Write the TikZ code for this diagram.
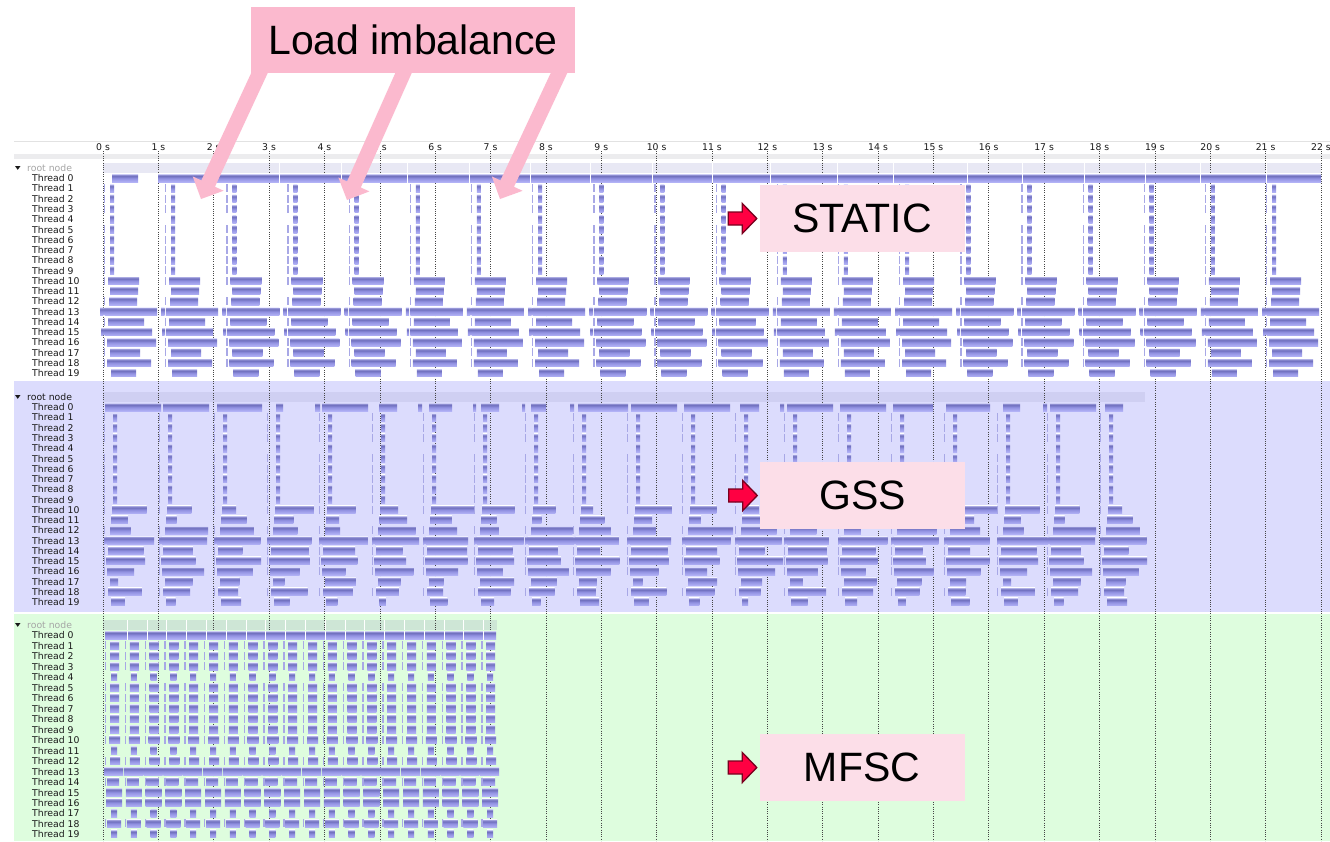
\documentclass[tikz,border=0pt]{standalone}
\usepackage{fontspec}
\setmainfont{Liberation Sans}
\newfontfamily\uifont{DejaVu Sans}
\usetikzlibrary{calc}

\definecolor{gssbg}{RGB}{220,220,253}
\definecolor{mfscbg}{RGB}{222,253,222}
\definecolor{axisline}{RGB}{226,226,226}
\definecolor{axisband}{RGB}{236,236,238}
\definecolor{rootS}{RGB}{232,232,244}
\definecolor{rootG}{RGB}{207,207,242}
\definecolor{rootM}{RGB}{206,230,214}
\definecolor{gridc}{RGB}{70,70,70}
\definecolor{lblc}{RGB}{25,25,25}
\definecolor{rootgray}{RGB}{165,165,165}
\definecolor{tickc}{RGB}{168,168,230}
\definecolor{pinkarrow}{RGB}{251,185,206}
\definecolor{labelpink}{RGB}{252,222,232}
\definecolor{redfill}{RGB}{255,0,66}
\definecolor{redline}{RGB}{120,0,30}
\definecolor{barrim}{RGB}{205,205,245}
\definecolor{barup}{RGB}{150,150,215}
\definecolor{bardk}{RGB}{112,112,190}
\definecolor{barmid}{RGB}{145,145,225}
\definecolor{barlo}{RGB}{178,178,246}

% task bar: light rim on top, dark band, lighter towards the bottom
\pgfdeclareverticalshading{barshade}{100bp}{color(0bp)=(barlo); color(25bp)=(barlo); color(48bp)=(barmid); color(62bp)=(bardk); color(71bp)=(barup); color(75bp)=(barrim); color(100bp)=(barrim)}

\newcommand\gbar[3]{\shade[shading=barshade] ({#1},{#3-4}) rectangle ({#2},{#3+4});}
\newcommand\gtick[2]{\fill[tickc] ({#1},{#2-4}) rectangle ({#1+1.3},{#2+4});}

\tikzset{
  threadlbl/.style={anchor=west, inner sep=0pt, text=lblc, font=\uifont\fontsize{9.3}{10}\selectfont},
  rootlbl/.style={anchor=west, inner sep=0pt, font=\uifont\fontsize{9.3}{10}\selectfont},
  axislbl/.style={anchor=center, inner sep=0pt, text=lblc, font=\uifont\fontsize{9.3}{10}\selectfont},
  gridline/.style={draw=gridc, line width=0.6pt, dash pattern=on 1pt off 1.3pt},
  callout/.style={fill=labelpink, minimum width=205pt, minimum height=67pt, inner sep=0pt, font=\fontsize{41}{48}\selectfont},
  redarrow/.style={fill=redfill, draw=redline, line width=1.3pt, line join=miter},
}

\begin{document}
\begin{tikzpicture}[x=1pt,y=-1pt]
\useasboundingbox (0,0) rectangle (1330,841);
\fill[white] (0,0) rectangle (1330,841);

% panel backgrounds
\fill[gssbg] (14,381) rectangle (1330,612);
\fill[mfscbg] (14,613.5) rectangle (1330,841);

% time axis strip
\fill[axisline] (14,140.5) rectangle (1330,141.5);
\fill[axisband] (14,154) rectangle (1330,159);

% root node bands
\fill[rootS] (103,163) rectangle (1321,173);
\fill[rootG] (103,392) rectangle (1145,402);
\fill[rootM] (103,620) rectangle (497,630);

% second ticks and dotted grid
\foreach \ts in {0,...,22}{
  \pgfmathsetmacro\gx{103+55.36*\ts}
  \draw[gridline] (\gx,151) -- (\gx,841);
  \node[axislbl] (ax\ts) at (\gx,147) {\ts{} s};
}

% row labels
\foreach \py/\dy/\pn/\rc in {168/10.26/s/rootgray, 397/10.26/g/lblc, 625/10.47/m/rootgray}{
  \fill[lblc] (15,\py-2) -- (20.5,\py-2) -- (17.75,\py+1.8) -- cycle;
  \node[rootlbl, text=\rc] (\pn root) at (27,\py) {root node};
  \foreach \rw in {0,...,19}{
    \node[threadlbl] (\pn t\rw) at (32,{\py+\dy*(\rw+1)}) {Thread \rw};
  }
}

% ---------------- STATIC ----------------
\gbar{112}{138}{178}
\gbar{158}{1321}{178}
\foreach \sp in {279,341,407,469,530,590,652,712,770,837,893,967,1022,1084,1145,1200,1266}{
  \fill[white] (\sp,163) rectangle (\sp+1,173);
  \fill[white] (\sp,173.5) rectangle (\sp+1,182.5);
}
\foreach \gi in {0,...,19}{
  \pgfmathsetmacro\gx{104+61.16*\gi}
  \foreach \rw in {1,...,9}{
    \pgfmathsetmacro\yy{178+10.26*\rw}
    \ifnum\rw=4 \else \gtick{\gx}{\yy}\fi
    \gbar{\gx+6}{\gx+10}{\yy}
  }
  \foreach \rw/\of/\wi/\kd in {10/4/32/1,11/6/26/0,12/5/30/1,13/-4/56/2,14/4/39/1,15/-3/51/2,16/3/46/1,17/6/31/1,18/3/42/1,19/7/27/0}{
    \pgfmathsetmacro\yy{178+10.26*\rw}
    \pgfmathsetmacro\ww{\wi+mod(\gi*7+\rw*3,7)-3}
    \pgfmathsetmacro\xa{\gx+\of}
    \pgfmathsetmacro\xb{\gx+\of+\ww}
    \ifnum\kd=1 \gtick{\gx}{\yy}\fi
    \ifnum\kd=2 \gbar{\xa}{\gx-0.6}{\yy}\gbar{\gx+0.6}{\xb}{\yy}\else \gbar{\xa}{\xb}{\yy}\fi
  }
}

% ---------------- GSS ----------------
\foreach \xa/\xb in {105/161,163/209,217/262,276/283,315/320,322/368,379/397,418/422,429/452,473/476,481/499,522/525,531/546,570/574,578/628,631/677,684/730,740/759,780/784,787/833,840/886,893/933,946/990,1003/1020,1043/1047,1050/1096,1105/1123}{
  \gbar{\xa}{\xb}{407}
}
\foreach \gx [count=\gi from 0] in {113,168,223,276,328,381,432,483,534,582,636,691,744,793,847,900,953,1006,1056,1109}{
  \foreach \rw in {1,...,9}{
    \pgfmathsetmacro\yy{407+10.26*\rw}
    \ifnum\rw=4 \else \gtick{\gx-9}{\yy}\fi
    \gbar{\gx}{\gx+4}{\yy}
  }
  \foreach \rw/\of/\lo/\hi/\kd in {10/-1/12/45/1,11/-2/8/28/0,12/-3/15/45/1,13/-9/44/50/2,14/-5/22/40/1,15/-7/32/46/1,16/-6/22/42/1,17/-3/8/34/0,18/-5/16/38/1,19/-2/6/20/0}{
    \pgfmathsetmacro\yy{407+10.26*\rw}
    \pgfmathsetmacro\ww{\lo+(\hi-\lo)*mod(\gi*29+\rw*13,17)/16}
    \pgfmathsetmacro\xa{\gx+\of}
    \pgfmathsetmacro\xb{\gx+\of+\ww}
    \ifnum\kd=1 \gtick{\gx-9}{\yy}\fi
    \ifnum\kd=2 \gbar{\xa}{\gx-7.6}{\yy}\gbar{\gx-6.4}{\xb}{\yy}\else \gbar{\xa}{\xb}{\yy}\fi
  }
}

% ---------------- MFSC ----------------
\gbar{105}{496}{635}
\foreach \gi in {1,...,19}{
  \pgfmathsetmacro\gx{110+19.8*\gi-3}
  \fill[white] (\gx,620) rectangle (\gx+1,630);
  \fill[white] (\gx,630.5) rectangle (\gx+1,639.5);
}
\foreach \gi in {0,...,19}{
  \pgfmathsetmacro\gx{110+19.8*\gi}
  \foreach \rw/\st/\en/\kd in {1/0/9/1,2/0/9/1,3/0/9/1,4/1/7/0,5/0/9/1,6/0/9/1,7/0/9/1,8/0/9/1,9/0/9/1,10/-1/10/1,11/1/7/0,12/0/10/1,13/-6/13/0,14/-3/9/1,15/-4/12/0,16/-4/12/0,17/1/7/0,18/-3/11/1,19/1/7/0}{
    \pgfmathsetmacro\yy{635+10.47*\rw}
    \ifnum\kd=1 \gtick{\gx-5}{\yy}\fi
    \gbar{\gx+\st}{\gx+\en}{\yy}
  }
}

% ---------------- callouts ----------------
\foreach \i/\sx/\tx/\ty in {1/265.5/201/199,2/409.3/347/200,3/565.1/500/199}{
  \coordinate (ls\i) at (\sx,60);
  \coordinate (lt\i) at (\tx,\ty);
  \coordinate (lb\i) at ($(lt\i)!17pt!(ls\i)$);
  \fill[pinkarrow] ($(ls\i)!7.5pt!90:(lt\i)$) -- ($(lb\i)!7.5pt!90:(lt\i)$) -- ($(lb\i)!17pt!90:(lt\i)$) -- (lt\i)
    -- ($(lb\i)!17pt!-90:(lt\i)$) -- ($(lb\i)!7.5pt!-90:(lt\i)$) -- ($(ls\i)!7.5pt!-90:(lt\i)$) -- cycle;
}
\node[callout, fill=pinkarrow, minimum width=324pt, minimum height=66pt] (load) at (413,40) {Load imbalance};

\node[callout] (static) at (862,218.5) {STATIC};
\node[callout] (gss) at (862.5,495.5) {GSS};
\node[callout] (mfsc) at (862,767.5) {MFSC};

\foreach \n in {static,gss,mfsc}{
  \draw[redarrow] ($(\n.west)+(-31,-6.5)$) -- ++(14,0) -- ++(0,-8.5) -- ++(14.5,15) -- ++(-14.5,15) -- ++(0,-8.5) -- ++(-14,0) -- cycle;
}
\end{tikzpicture}
\end{document}
